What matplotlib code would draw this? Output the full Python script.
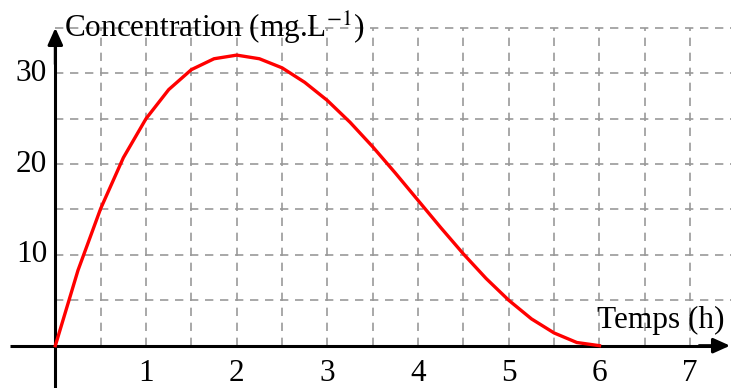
import matplotlib
matplotlib.use('Agg')
import matplotlib.pyplot as plt
import numpy as np

# values (time in h, concentration in mg/L)
temps = [0, 0.25, 0.5, 0.75, 1, 1.25, 1.5, 1.75, 2, 2.25, 2.5, 2.75, 3,
         3.25, 3.5, 3.75, 4, 4.25, 4.5, 4.75, 5, 5.25, 5.5, 5.75, 6]
concentration = [0, 8.3, 15.1, 20.7, 25, 28.2, 30.4, 31.6, 32, 31.6, 30.6,
                 29.0, 27, 24.6, 21.9, 19.0, 16, 13.0, 10.1, 7.4, 5, 2.95,
                 1.4, 0.35, 0]
x_ticks = [1, 2, 3, 4, 5, 6, 7]
y_ticks = [10, 20, 30]

plt.rcParams['font.family'] = ['Liberation Serif', 'DejaVu Serif']
plt.rcParams['mathtext.fontset'] = 'stix'

fig = plt.figure(figsize=(7.31, 3.88), dpi=100)
ax = fig.add_axes([0, 0, 1, 1])
ax.set_xlim(-0.61, 7.45)
ax.set_ylim(-4.66, 38.07)
ax.axis('off')

# dashed grid
grid_kw = dict(color='#999999', lw=1.2, ls=(0, (5, 4)), zorder=1)
for gx in np.arange(0.5, 7.51, 0.5):
    ax.plot([gx, gx], [0, 35], **grid_kw)
for gy in np.arange(5, 35.1, 5):
    ax.plot([0, 7.5], [gy, gy], **grid_kw)

# axes with arrows
arrow_kw = dict(arrowstyle='-|>,head_length=1.0,head_width=0.45',
                color='black', lw=2.2, shrinkA=0, shrinkB=0)
ax.plot([-0.5, 7.3], [0, 0], color='black', lw=2.2, zorder=3, solid_capstyle='butt')
ax.plot([0, 0], [-5, 33.5], color='black', lw=2.2, zorder=3, solid_capstyle='butt')
ax.annotate('', xy=(7.44, 0), xytext=(7.1, 0), arrowprops=arrow_kw,
            annotation_clip=False, zorder=4)
ax.annotate('', xy=(0, 35.0), xytext=(0, 31), arrowprops=arrow_kw,
            annotation_clip=False, zorder=4)

ax.plot(temps, concentration, color='red', lw=2.4, zorder=5)

fs = 22.5
for t in x_ticks:
    ax.text(t, -1.5, str(t), ha='center', va='top', fontsize=fs)
for c in y_ticks:
    ax.text(-0.09, c, str(c), ha='right', va='center', fontsize=fs)

ax.text(0.1, 34.9, r'Concentration (mg.L$^{-1}$)', ha='left', va='center', fontsize=fs)
ax.text(5.97, 2.8, 'Temps (h)', ha='left', va='center', fontsize=fs)

fig.savefig('out.png', dpi=100)
